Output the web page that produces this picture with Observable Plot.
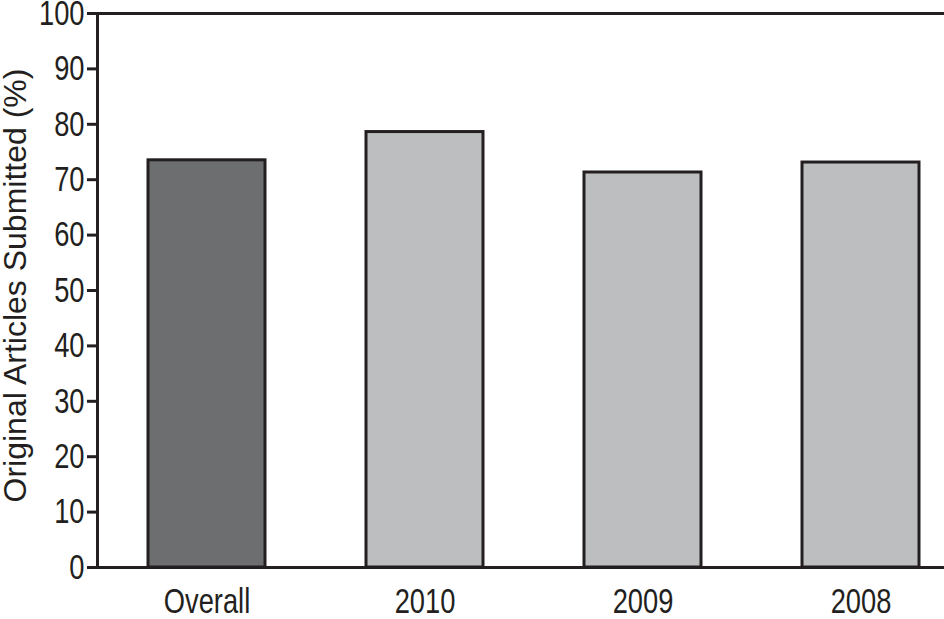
<!DOCTYPE html>
<html><head><meta charset="utf-8">
<script src="https://cdn.jsdelivr.net/npm/d3@7"></script>
<script src="https://cdn.jsdelivr.net/npm/@observablehq/plot@0.6"></script>
<style>
body{margin:0;background:#fff;}
svg{font-family:"Liberation Sans Narrow","Liberation Sans",sans-serif;}
</style></head><body>
<div id="chart"></div>
<script>
const categories = ["Overall", "2010", "2009", "2008"];
const values = [73.5, 78.6, 71.3, 73.1];
const fills = ["#6d6e70", "#bcbec0", "#bcbec0", "#bcbec0"];
const yTicks = [0,10,20,30,40,50,60,70,80,90,100];
const yLabel = "Original Articles Submitted (%)";

const data = categories.map((c,i)=>({cat:c, v:values[i], fill:fills[i]}));

const chart = Plot.plot({
  width: 944, height: 619,
  marginLeft: 97, marginTop: 13, marginBottom: 52, marginRight: 0,
  style: {fontSize: "35px", color: "#231f20", background: "#fff"},
  x: {domain: categories, range: [97, 970], paddingInner: 0.465, paddingOuter: 0.229},
  y: {domain: [0, 100]},
  marks: [
    Plot.barY(data, {x: "cat", y: "v", fill: "fill", stroke: "#231f20", strokeWidth: 3}),
    Plot.ruleY([0, 100], {stroke: "#231f20", strokeWidth: 3}),
    Plot.frame({anchor: "left", stroke: "#231f20", strokeWidth: 3}),
    Plot.axisY({ticks: yTicks, tickSize: 10, tickPadding: 3, tickFormat: d=>String(d), label: null, stroke: "#231f20", strokeWidth: 3, fontSize: 35}),
    Plot.axisX({tickSize: 0, tickPadding: 21, label: null, fontSize: 35}),
    Plot.text([yLabel], {frameAnchor: "left", textAnchor: "middle", rotate: -90, dx: -82, dy: -5, fontSize: 32, fill: "#231f20"})
  ]
});
document.getElementById("chart").appendChild(chart);

// condense the glyphs horizontally (the reference uses a condensed typeface)
function condense(sel, s) {
  d3.select(chart).selectAll(sel).each(function() {
    const t = d3.select(this);
    const tr = t.attr("transform") || "";
    t.attr("transform", tr + ` scale(${s},1)`);
  });
}
condense("g[aria-label='y-axis tick label'] text", 0.78);
condense("g[aria-label='x-axis tick label'] text", 0.78);
</script>
</body></html>
